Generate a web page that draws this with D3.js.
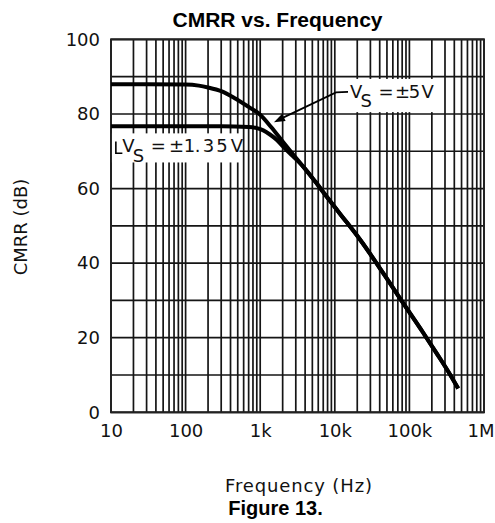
<!DOCTYPE html>
<html>
<head>
<meta charset="utf-8">
<script src="https://cdn.jsdelivr.net/npm/d3@7"></script>
<style>
  html, body { margin: 0; padding: 0; background: #fff; }
  svg { display: block; }
</style>
</head>
<body>
<svg id="chart" width="495" height="523"></svg>
<script>
// ---- data ----
const freqTicks = [10, 100, 1000, 10000, 100000, 1000000];
const freqTickLabels = ["10", "100", "1k", "10k", "100k", "1M"];
const cmrrTicks = [0, 20, 40, 60, 80, 100];

const freq5V = [10, 30, 100, 150, 200, 300, 450, 700, 1000, 1400, 2000, 2800, 3800, 5500, 7800, 12000, 22000, 45000, 83000, 150000, 232000, 330000, 450000];
const cmrr5V = [88, 88, 87.9, 87.6, 87.1, 86.1, 84.3, 81.9, 79.8, 76.5, 72.6, 69.0, 65.8, 61.8, 57.8, 53, 46.2, 37.2, 29.2, 21.6, 15.8, 11, 6.4];

const freq135V = [10, 100, 300, 700, 900, 1100, 1350, 1660, 2000, 2400, 2800, 3800, 5500, 7800, 12000, 22000, 45000, 83000, 150000, 232000, 330000, 450000];
const cmrr135V = [76.7, 76.7, 76.7, 76.5, 76.2, 75.6, 74.5, 73.1, 71.4, 69.8, 68.5, 65.8, 61.8, 57.8, 53, 46.2, 37.2, 29.2, 21.6, 15.8, 11, 6.4];

const title = "CMRR vs. Frequency";
const xTitle = "Frequency (Hz)";
const yTitle = "CMRR (dB)";
const caption = "Figure 13.";

// ---- layout ----
const svg = d3.select("#chart");
const plotL = 111, plotR = 484, plotT = 39.4, plotB = 412.3;
const x = d3.scaleLog().domain([10, 1e6]).range([plotL, plotR]);
const y = d3.scaleLinear().domain([0, 100]).range([plotB, plotT]);
const FONT = "'DejaVu Sans', sans-serif";
const INK = "#111";

// grid
const minor = [];
for (let e = 1; e < 6; e++) for (let k = 1; k <= 9; k++) minor.push(k * Math.pow(10, e));
minor.push(1e6);
const hgrid = d3.range(0, 101, 10);

const grid = svg.append("g").attr("stroke", "#151515").attr("stroke-width", 1.7);
grid.selectAll("line.v").data(minor).join("line")
  .attr("x1", d => x(d)).attr("x2", d => x(d))
  .attr("y1", y(0)).attr("y2", y(100));
grid.selectAll("line.h").data(hgrid).join("line")
  .attr("x1", x(10)).attr("x2", x(1e6))
  .attr("y1", d => y(d)).attr("y2", d => y(d));
svg.append("rect")
  .attr("x", x(10)).attr("y", y(100))
  .attr("width", x(1e6) - x(10)).attr("height", y(0) - y(100))
  .attr("fill", "none").attr("stroke", "#222").attr("stroke-width", 2);

// label boxes (white backgrounds hiding the grid)
const box5V = { f0: 14600, f1: 234000, v0: 89.4, v1: 80.5 };
const box135V = { f0: 10.3, f1: 528, v0: 74.8, v1: 67.0 };
[box5V, box135V].forEach(b => {
  svg.append("rect")
    .attr("x", x(b.f0)).attr("y", y(b.v0))
    .attr("width", x(b.f1) - x(b.f0)).attr("height", y(b.v1) - y(b.v0))
    .attr("fill", "#fff");
});

// curves
const line = d3.line().x(d => x(d[0])).y(d => y(d[1])).curve(d3.curveMonotoneX);
const series = [
  d3.zip(freq135V, cmrr135V),
  d3.zip(freq5V, cmrr5V)
];
svg.append("g").selectAll("path").data(series).join("path")
  .attr("d", line)
  .attr("fill", "none").attr("stroke", "#000")
  .attr("stroke-width", 4).attr("stroke-linejoin", "round");

// axes (labels only)
const xAxis = svg.append("g").attr("transform", `translate(0,${y(0)})`)
  .call(d3.axisBottom(x).tickValues(freqTicks).tickFormat((d, i) => freqTickLabels[i]).tickSize(0).tickPadding(12));
const yAxis = svg.append("g").attr("transform", `translate(${x(10)},0)`)
  .call(d3.axisLeft(y).tickValues(cmrrTicks).tickSize(0).tickPadding(11));
[xAxis, yAxis].forEach(a => {
  a.select(".domain").remove();
  a.selectAll("text").attr("font-family", FONT).attr("font-size", 18).attr("fill", INK);
});
// keep the last x label inside the picture, as in the reference
xAxis.selectAll(".tick text").filter(d => d === 1e6)
  .attr("text-anchor", "end").attr("x", 10);

// titles
svg.append("text").text(title)
  .attr("x", 277.5).attr("y", 27).attr("text-anchor", "middle")
  .attr("font-family", "'Liberation Sans', Arial, sans-serif").attr("font-weight", "bold")
  .attr("font-size", 21).attr("fill", "#000");
svg.append("text").text(xTitle)
  .attr("x", (x(10) + x(1e6)) / 2 + 1).attr("y", 492).attr("text-anchor", "middle")
  .attr("font-family", FONT).attr("font-size", 18).attr("fill", INK)
  .attr("textLength", 147).attr("lengthAdjust", "spacing");
svg.append("text").text(yTitle)
  .attr("transform", "translate(27,227) rotate(-90)").attr("text-anchor", "middle")
  .attr("font-family", FONT).attr("font-size", 18).attr("fill", INK);
svg.append("text").text(caption)
  .attr("x", 275.5).attr("y", 515).attr("text-anchor", "middle")
  .attr("font-family", "'Liberation Sans', Arial, sans-serif").attr("font-weight", "bold")
  .attr("font-size", 20).attr("fill", "#000");

// annotation labels
function vsLabel(anchor, parts, subDy) {
  const ax = x(anchor.f), ay = y(anchor.v);
  const t = svg.append("text").attr("font-family", FONT).attr("font-size", 18).attr("fill", INK);
  parts.forEach(p => {
    t.append("tspan").text(p.s).attr("x", ax + p.dx).attr("y", ay + (p.sub ? subDy : 0));
  });
}
const label5V = { f: 16000, v: 84.2 };
vsLabel(label5V, [
  { s: "V", dx: 0 }, { s: "S", dx: 10.5, sub: true }, { s: "=", dx: 28.5 },
  { s: "\u00b1", dx: 45 }, { s: "5", dx: 58.8 }, { s: "V", dx: 71.5 }
], 8.4);
const label135V = { f: 14.2, v: 69.7 };
vsLabel(label135V, [
  { s: "V", dx: 0 }, { s: "S", dx: 10.3, sub: true }, { s: "=", dx: 28.5 },
  { s: "\u00b1", dx: 46.7 }, { s: "1", dx: 61.5 }, { s: ".", dx: 72.5 },
  { s: "3", dx: 80.3 }, { s: "5", dx: 94 }, { s: "V", dx: 108.3 }
], 10);

// leaders
const arrowTip = { f: 1530, v: 77.8 };
const tipX = x(arrowTip.f), tipY = y(arrowTip.v);
const l5x = x(label5V.f), l5y = y(label5V.v);
svg.append("path")
  .attr("d", `M${l5x - 2},${l5y - 6.5} L${l5x - 14},${l5y - 6} L${tipX + 6},${tipY - 3}`)
  .attr("fill", "none").attr("stroke", "#000").attr("stroke-width", 1.8);
// arrowhead
const ang = Math.atan2(tipY - (l5y - 6), tipX - (l5x - 14));
const hl = 11, hw = 4;
const bx = tipX - hl * Math.cos(ang), by = tipY - hl * Math.sin(ang);
svg.append("path")
  .attr("d", `M${tipX},${tipY} L${bx + hw * Math.sin(ang)},${by - hw * Math.cos(ang)} L${bx - hw * Math.sin(ang)},${by + hw * Math.cos(ang)} Z`)
  .attr("fill", "#000");

const l1x = x(label135V.f), l1y = y(label135V.v);
svg.append("path")
  .attr("d", `M${l1x - 6.5},${l1y - 11} L${l1x - 6.5},${l1y + 0.8} L${l1x},${l1y + 0.8}`)
  .attr("fill", "none").attr("stroke", "#000").attr("stroke-width", 1.6);
</script>
</body>
</html>
